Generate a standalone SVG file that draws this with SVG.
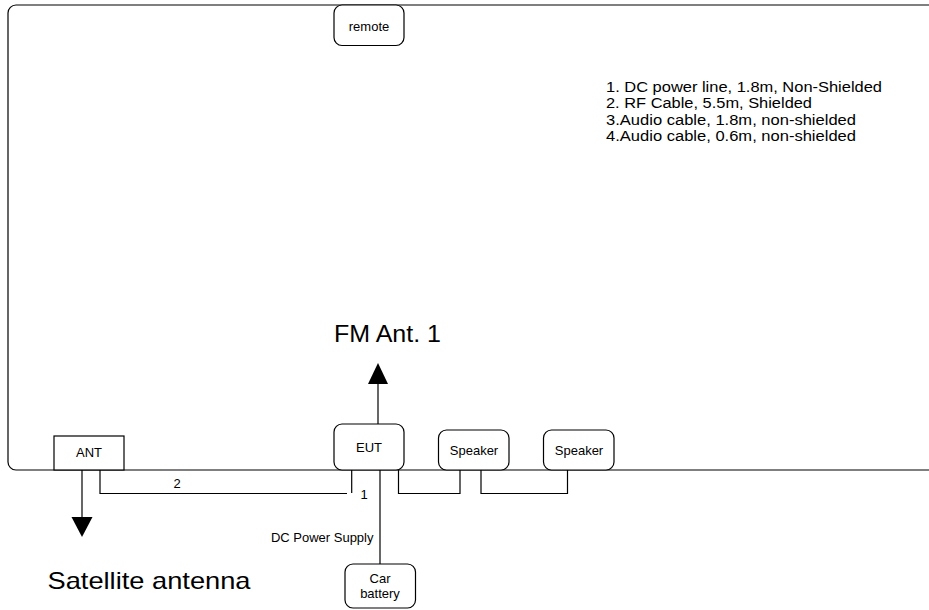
<svg xmlns="http://www.w3.org/2000/svg" width="929" height="610" viewBox="0 0 929 610">
<style>
.box{fill:#fff;stroke:#000;stroke-width:1.2}
.ln{fill:none;stroke:#000;stroke-width:1.2}
.t{font-family:"Liberation Sans",Arial,sans-serif;font-size:13px;fill:#000}
.lg{font-family:"Liberation Sans",Arial,sans-serif;font-size:14px;fill:#000}
.big{font-family:"Liberation Sans",Arial,sans-serif;font-size:24px;fill:#000}
</style>
<rect width="929" height="610" fill="#fff"/>
<g id="room"><rect x="8" y="5" width="940" height="465" rx="8" class="ln"/></g>
<g id="legend">
<text class="lg" x="606" y="92" textLength="276" lengthAdjust="spacingAndGlyphs">1. DC power line, 1.8m, Non-Shielded</text>
<text class="lg" x="606" y="108" textLength="206" lengthAdjust="spacingAndGlyphs">2. RF Cable, 5.5m, Shielded</text>
<text class="lg" x="606" y="124.5" textLength="250" lengthAdjust="spacingAndGlyphs">3.Audio cable, 1.8m, non-shielded</text>
<text class="lg" x="606" y="141" textLength="250" lengthAdjust="spacingAndGlyphs">4.Audio cable, 0.6m, non-shielded</text>
</g>
<g id="connectors">
<path class="ln" d="M378,424 V383"/>
<polygon points="378,363 368,384 388,384" fill="#000"/>
<path class="ln" d="M82,470 V517"/>
<polygon points="82,537 71.5,517 92.5,517" fill="#000"/>
<path class="ln" d="M100,470 V493.5 H347"/>
<path class="ln" d="M351.7,470 V493"/>
<path class="ln" d="M380,470 V564"/>
<path class="ln" d="M398.5,470 V493.5 H460 V470"/>
<path class="ln" d="M481,470 V493.5 H567.5 V470"/>
<text class="t" x="177" y="487.5" text-anchor="middle">2</text>
<text class="t" x="364" y="498.5" text-anchor="middle">1</text>
<text class="t" x="373.5" y="542" text-anchor="end">DC Power Supply</text>
</g>
<g id="remote"><rect class="box" x="334" y="5" width="70" height="40.5" rx="8"/><text class="t" x="369" y="30.5" text-anchor="middle">remote</text></g>
<g id="ant"><rect class="box" x="54" y="436" width="70" height="34"/><text class="t" x="89" y="457" text-anchor="middle">ANT</text></g>
<g id="eut"><rect class="box" x="334" y="424" width="70" height="46" rx="8"/><text class="t" x="369" y="451.5" text-anchor="middle">EUT</text></g>
<g id="speaker1"><rect class="box" x="438.5" y="430" width="70.5" height="40" rx="8"/><text class="t" x="474" y="455" text-anchor="middle">Speaker</text></g>
<g id="speaker2"><rect class="box" x="543.5" y="430" width="70.5" height="40" rx="8"/><text class="t" x="579" y="455" text-anchor="middle">Speaker</text></g>
<g id="battery"><rect class="box" x="345" y="564" width="70.5" height="44" rx="8"/><text class="t" x="380" y="583" text-anchor="middle">Car</text><text class="t" x="380" y="597.5" text-anchor="middle">battery</text></g>
<g id="fm"><text class="big" x="334" y="341.5" font-size="27" textLength="107" lengthAdjust="spacingAndGlyphs">FM Ant. 1</text></g>
<g id="satellite"><text class="big" x="47.5" y="588.5" textLength="203" lengthAdjust="spacingAndGlyphs">Satellite antenna</text></g>
</svg>
